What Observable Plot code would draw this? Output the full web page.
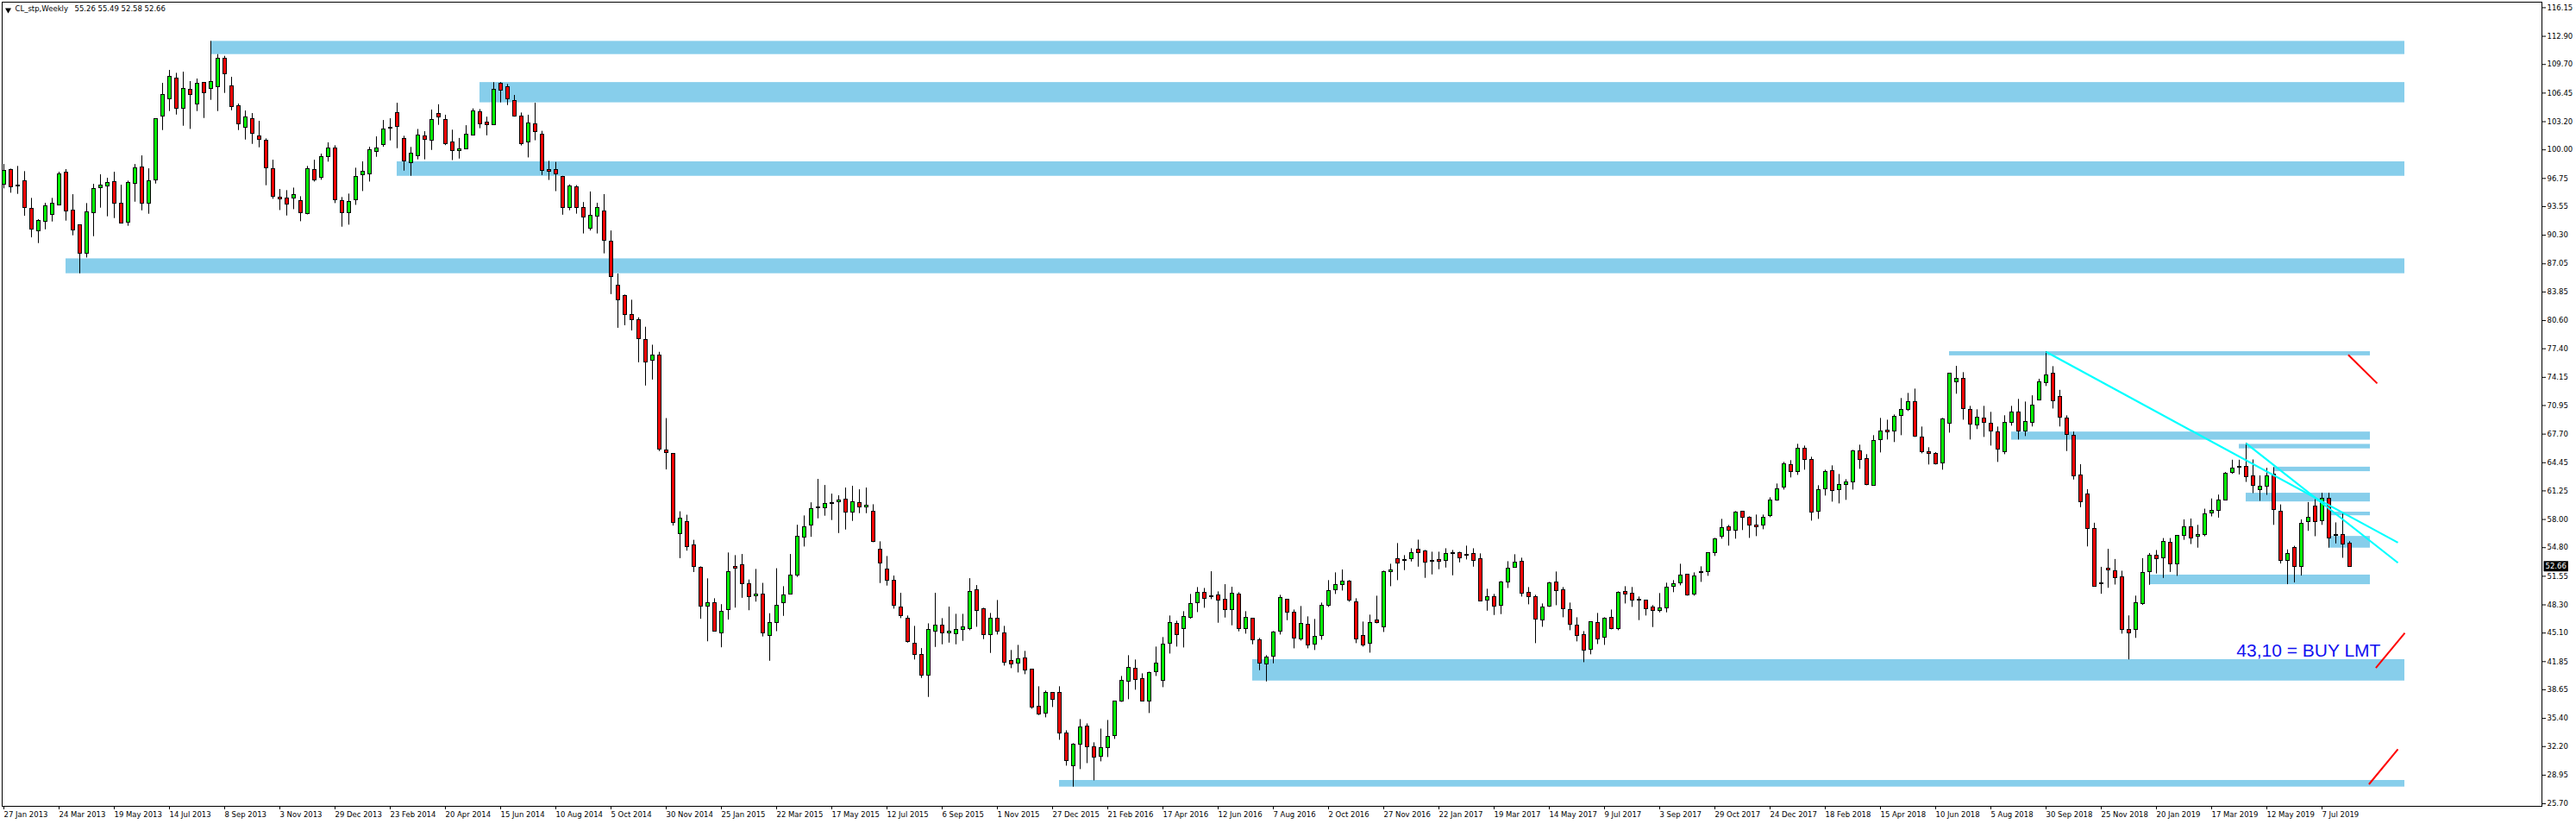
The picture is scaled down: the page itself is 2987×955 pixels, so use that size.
<!DOCTYPE html>
<html><head><meta charset="utf-8">
<script src="https://cdn.jsdelivr.net/npm/d3@7"></script>
<script src="https://cdn.jsdelivr.net/npm/@observablehq/plot@0.6"></script>
<style>html,body{margin:0;padding:0;background:#fff;overflow:hidden}</style>
</head><body>
<div id="chart"></div>
<script>
const symbolName = "CL_stp,Weekly";
// weekly bars, bar 0 = week of 27 Jan 2013
const opens = [96.06,97.72,95.93,96.45,93.31,90.76,91.81,92.62,93.74,97.43,93.11,91.45,88.21,92.82,95.66,95.86,96.35,93.90,91.74,96.15,
98.02,93.90,96.55,103.80,105.76,108.11,104.68,106.84,105.17,107.62,106.94,107.13,110.37,107.23,104.98,102.53,103.51,101.55,101.06,97.82,
94.59,94.49,94.49,94.19,92.72,97.72,96.84,99.19,100.17,94.19,92.82,94.29,97.13,97.23,99.78,100.57,102.49,104.19,101.22,98.49,
99.30,101.55,101.09,104.06,103.38,100.83,99.90,100.11,101.64,104.28,103.09,102.79,107.51,107.13,105.55,103.81,100.83,102.92,101.72,97.73,
97.73,96.92,93.39,95.73,93.39,91.00,92.41,93.00,89.56,84.58,83.43,81.26,80.62,78.37,76.02,76.66,65.85,65.47,56.37,57.68,
55.05,52.50,48.07,48.54,45.05,47.73,52.54,52.84,50.62,49.30,49.43,44.75,46.24,48.50,49.47,51.60,55.94,57.35,59.30,59.29,
59.75,59.98,60.27,58.80,59.88,59.39,58.90,54.59,52.33,51.06,48.02,46.74,43.90,42.63,40.27,45.27,45.96,45.15,44.98,45.47,
45.57,49.98,47.82,44.88,46.74,45.08,41.94,41.65,42.23,40.96,36.74,35.96,38.31,38.31,33.70,29.98,32.43,34.49,32.13,31.06,
32.04,33.41,37.33,39.59,41.06,39.88,37.33,40.66,39.68,43.90,46.15,45.57,46.84,48.51,49.68,49.24,49.39,48.90,47.72,49.49,
45.57,46.74,44.29,41.55,42.43,45.27,48.90,47.43,44.39,46.06,43.80,44.78,48.21,49.98,50.57,50.96,48.61,44.78,43.90,46.55,
45.76,52.10,53.51,53.41,53.51,54.59,54.39,53.25,53.41,53.31,54.16,54.19,54.00,54.10,53.51,48.80,49.19,48.21,50.86,52.53,
53.21,49.68,49.19,46.55,48.12,50.86,49.98,47.72,45.96,44.88,43.21,46.25,44.59,46.84,45.57,49.79,49.59,48.84,48.80,48.02,
47.63,47.92,50.37,50.77,51.75,49.49,51.97,52.04,54.20,56.06,57.14,56.75,58.90,58.22,57.24,57.33,58.41,60.18,61.65,64.20,
63.41,66.06,64.79,58.90,61.45,63.51,61.35,61.94,62.24,65.77,64.88,61.84,67.04,68.12,68.02,69.79,70.47,71.35,67.33,65.57,
65.47,64.39,68.90,73.61,74.00,70.47,68.71,69.49,68.90,67.92,65.67,69.00,70.18,68.02,69.00,71.55,73.46,74.58,71.93,69.51,
67.53,63.03,60.85,56.93,50.70,52.44,52.16,51.45,45.49,45.42,48.42,52.06,53.90,53.60,55.37,52.91,56.15,57.14,56.08,56.22,
58.71,59.01,60.14,63.31,63.95,63.99,62.93,61.36,61.74,63.14,58.91,53.32,54.79,52.61,57.72,59.49,57.86,60.38,56.22,56.25,
55.26];
const highs = [98.34,97.82,98.12,97.53,94.49,92.07,93.93,94.49,97.46,97.76,94.91,91.45,93.90,96.09,97.17,96.78,97.46,95.99,96.45,98.34,
99.32,97.85,103.51,107.56,109.03,108.70,108.83,107.76,108.05,107.62,112.33,110.83,110.63,108.25,105.21,104.42,104.13,103.25,101.25,98.83,
95.50,95.37,95.66,94.68,98.12,98.83,99.52,100.80,100.47,94.59,94.98,97.92,98.64,100.30,101.48,103.34,103.54,105.30,101.55,100.28,
102.32,102.07,104.53,105.13,103.94,102.24,101.30,102.75,104.66,104.58,103.72,107.64,107.64,107.43,106.19,104.19,103.94,105.30,102.11,98.70,
98.58,97.00,96.02,95.94,94.02,95.22,93.94,94.92,90.79,85.90,83.51,82.92,80.92,79.85,77.81,77.00,69.47,65.47,58.88,58.49,
55.64,52.62,51.26,49.00,48.33,54.20,53.90,54.03,51.13,52.33,50.75,47.30,52.41,50.37,54.03,57.35,58.41,59.90,62.56,61.87,
60.89,60.70,61.58,61.78,61.38,61.58,59.68,55.47,53.80,51.58,49.62,47.04,45.86,43.34,46.15,49.62,46.74,48.05,47.23,47.23,
51.28,50.50,47.92,47.33,48.80,45.86,43.12,43.70,43.02,40.96,39.00,38.51,38.31,39.00,34.00,32.53,35.27,34.78,32.63,34.19,
35.17,37.33,40.17,42.53,42.04,40.47,40.66,43.51,44.59,47.04,46.45,47.53,49.49,50.27,50.17,52.07,49.78,50.60,50.31,49.68,
47.53,46.74,44.49,42.53,45.27,49.39,48.90,47.72,48.12,46.94,46.65,48.51,51.06,51.94,52.27,51.06,49.00,46.35,47.14,49.29,
52.14,52.92,55.27,53.90,54.68,55.66,54.49,54.29,54.29,54.68,54.49,54.29,54.98,54.68,54.10,50.08,49.49,50.96,53.21,54.00,
53.61,50.27,49.39,48.41,50.86,52.04,50.27,48.51,46.84,45.27,46.35,47.33,46.84,47.72,49.78,50.37,50.28,49.20,48.80,48.22,
49.59,50.77,51.06,52.92,51.75,51.94,52.63,54.20,55.86,58.02,57.33,58.90,58.90,58.31,58.51,58.51,60.47,62.04,64.49,64.69,
66.55,66.35,65.08,61.84,63.61,64.10,63.12,62.53,65.86,66.45,65.37,67.53,69.49,69.29,69.88,71.75,72.33,72.82,68.51,66.16,
65.60,69.49,74.59,75.41,74.69,70.86,70.47,70.86,70.18,68.51,69.79,70.86,71.65,71.35,72.06,73.94,77.05,75.37,72.68,69.78,
67.94,64.23,61.40,57.58,52.57,54.62,53.46,52.13,47.05,49.30,53.56,54.14,54.48,55.84,55.84,56.18,57.96,58.06,57.34,59.18,
60.34,60.78,63.34,64.74,64.74,66.64,64.77,62.96,63.82,63.89,59.66,54.55,54.96,57.96,59.93,60.27,60.99,60.99,57.62,58.81,
55.49];
const lows = [95.57,95.08,94.95,92.46,90.01,89.36,90.92,91.81,93.64,91.91,90.24,85.92,87.72,90.14,93.38,92.40,92.20,91.64,91.32,94.06,
93.08,92.69,96.12,102.20,104.36,103.96,102.69,102.33,104.36,103.57,105.63,104.36,106.42,104.45,102.20,101.12,100.63,100.24,95.93,94.39,
93.11,92.49,93.21,91.84,92.62,96.35,96.55,98.61,93.90,91.22,91.45,93.70,95.27,96.35,99.16,100.30,101.02,100.14,97.59,97.00,
98.87,98.87,99.94,102.79,100.49,98.79,98.96,100.07,101.64,102.41,101.60,102.79,105.34,105.04,103.72,100.45,99.09,101.04,97.09,96.53,
95.26,92.58,93.09,92.70,90.45,90.79,90.45,88.19,83.56,79.73,80.02,79.43,75.81,73.17,73.85,65.73,63.64,57.26,53.56,54.41,
51.98,46.67,44.11,45.26,43.43,46.58,47.94,49.05,47.64,48.62,44.66,41.90,45.26,47.00,49.43,51.43,54.88,55.98,58.08,58.38,
57.89,56.41,56.81,57.79,58.67,58.67,55.37,50.73,50.44,47.82,46.74,43.96,42.04,39.95,37.79,43.47,43.77,43.96,43.77,44.16,
45.37,45.76,44.36,42.79,44.88,41.35,41.06,40.57,40.37,36.45,35.73,35.47,36.64,32.92,29.98,27.59,29.59,30.27,28.31,30.47,
30.96,33.02,37.23,37.53,38.61,37.33,35.96,40.17,38.90,42.72,43.51,43.41,46.68,47.43,47.92,48.90,46.22,46.81,45.93,45.24,
44.98,43.77,40.83,39.55,41.61,44.88,46.51,43.31,44.19,43.31,43.12,44.29,48.02,49.49,49.88,48.61,43.90,43.51,42.82,46.15,
45.17,50.37,51.06,52.20,53.18,52.59,51.32,51.71,52.30,52.49,51.61,53.08,53.41,52.59,48.70,47.59,47.10,47.20,50.17,52.53,
49.19,48.31,43.90,45.76,48.02,48.21,46.84,45.37,44.10,41.74,42.63,43.80,43.70,45.47,45.37,48.41,48.02,46.52,47.04,45.73,
47.40,47.40,49.69,50.47,49.30,49.30,50.86,51.55,53.81,55.77,54.98,55.77,56.75,55.86,56.06,56.84,58.22,60.08,61.35,62.73,
63.02,63.61,57.82,58.02,60.67,59.98,59.78,60.18,61.35,63.71,61.84,61.84,65.57,67.04,66.75,67.53,70.28,67.33,65.47,64.20,
64.20,63.61,67.82,72.24,69.29,67.04,68.22,67.33,66.35,64.49,65.37,68.61,67.04,67.43,68.52,71.55,73.12,70.56,68.52,65.73,
62.49,59.35,54.89,50.39,49.51,50.19,50.56,44.98,42.05,44.50,48.25,50.53,51.82,51.31,51.99,51.55,55.64,55.16,54.75,56.05,
58.30,58.16,60.14,63.14,63.07,62.22,60.95,60.07,60.75,57.34,52.95,50.60,50.80,51.58,56.66,56.05,57.34,54.75,55.23,53.60,
52.58];
const closes = [97.63,95.80,95.90,93.41,90.96,91.94,93.60,93.90,97.23,93.02,90.86,88.21,92.92,95.57,95.96,96.25,93.90,91.64,96.25,97.92,
93.90,96.45,103.51,106.25,108.31,104.68,106.97,106.25,107.53,106.45,107.72,110.37,108.61,104.88,102.92,103.70,101.84,101.15,97.92,94.68,
94.39,93.80,94.88,92.82,97.82,96.55,99.19,100.17,94.29,92.82,94.10,96.94,97.53,99.98,100.17,102.33,102.43,102.62,98.70,99.55,
101.64,101.17,103.38,103.72,100.62,99.90,100.11,101.72,104.36,102.92,102.79,106.83,106.75,105.77,103.81,100.62,103.00,102.02,97.64,97.56,
97.22,93.39,95.81,93.39,92.28,92.49,93.39,89.64,85.56,82.92,81.26,80.62,78.49,75.81,76.66,65.90,65.56,57.64,58.07,54.88,
52.62,48.15,48.45,45.30,47.47,51.98,52.50,50.62,49.17,49.52,45.05,46.28,48.24,49.35,51.60,56.03,57.09,59.22,59.32,59.78,
59.85,60.17,58.80,59.98,59.39,59.59,55.44,53.02,51.06,48.21,47.04,44.10,42.63,40.27,45.47,45.96,45.08,45.19,45.47,45.76,
49.78,47.62,44.88,46.74,45.27,41.74,41.55,42.13,40.86,36.64,35.86,38.31,37.53,33.70,30.57,32.43,34.39,32.13,30.96,32.04,
33.31,37.33,39.68,41.15,39.78,37.33,40.57,41.65,43.80,46.25,44.88,46.94,48.41,49.68,49.00,49.28,48.80,47.72,49.59,45.57,
46.84,44.29,41.64,42.33,45.17,49.10,47.43,44.49,46.15,43.70,44.68,48.21,49.88,50.57,50.96,48.80,44.39,43.70,46.25,46.25,
52.04,52.14,53.02,53.31,54.19,54.19,53.12,53.21,53.21,54.10,54.19,53.61,53.93,53.31,48.70,49.19,48.12,50.86,52.43,53.12,
49.59,49.19,46.65,48.02,50.76,49.88,47.82,46.06,44.78,43.12,46.35,44.39,46.74,45.57,49.68,49.46,48.80,48.80,47.82,47.63,
47.92,50.28,50.67,51.65,49.39,51.55,52.01,54.20,55.77,57.04,56.75,58.80,58.22,57.33,57.20,58.22,60.18,61.45,64.30,63.41,
66.06,64.79,58.80,61.35,63.41,61.26,61.94,62.24,65.77,64.79,61.94,66.94,68.02,67.92,69.69,70.47,71.35,67.43,65.67,65.54,
64.30,69.39,74.59,74.00,70.57,68.81,69.59,69.00,68.02,65.96,69.00,70.18,68.02,69.10,70.97,73.60,74.38,71.45,69.54,67.63,
62.86,59.93,56.93,50.39,50.67,52.23,51.38,45.42,45.08,48.45,51.96,53.87,53.53,55.47,52.91,56.18,57.14,55.88,56.29,58.60,
58.95,60.14,63.24,63.82,63.92,62.83,61.84,61.74,62.86,59.05,53.29,54.11,52.61,57.55,58.16,57.72,60.38,55.88,56.18,55.20,
52.66];

// date labels on every 8th bar, starting with bar 0
const dateLabels = ["27 Jan 2013","24 Mar 2013","19 May 2013","14 Jul 2013","8 Sep 2013","3 Nov 2013","29 Dec 2013","23 Feb 2014",
"20 Apr 2014","15 Jun 2014","10 Aug 2014","5 Oct 2014","30 Nov 2014","25 Jan 2015","22 Mar 2015","17 May 2015",
"12 Jul 2015","6 Sep 2015","1 Nov 2015","27 Dec 2015","21 Feb 2016","17 Apr 2016","12 Jun 2016","7 Aug 2016",
"2 Oct 2016","27 Nov 2016","22 Jan 2017","19 Mar 2017","14 May 2017","9 Jul 2017","3 Sep 2017","29 Oct 2017",
"24 Dec 2017","18 Feb 2018","15 Apr 2018","10 Jun 2018","5 Aug 2018","30 Sep 2018","25 Nov 2018","20 Jan 2019",
"17 Mar 2019","12 May 2019","7 Jul 2019"];
const priceTicks = [116.15,112.90,109.70,106.45,103.20,100.00,96.75,93.55,90.30,87.05,83.85,80.60,77.40,74.15,70.95,
67.70,64.45,61.25,58.00,54.80,51.55,48.30,45.10,41.85,38.65,35.40,32.20,28.95,25.70];

// support / resistance zones (bar index from..to, price low..high)
const zoneFrom = [30, 69, 57, 9, 282, 291, 324, 329, 325, 337, 337, 311, 181, 153];
const zoneTo   = [348, 348, 348, 348, 343, 343, 343, 343, 343, 343, 343, 343, 348, 348];
const zoneLow  = [110.83, 105.35, 97.00, 85.93, 76.60, 67.02, 66.03, 63.44, 60.00, 58.43, 54.75, 50.60, 39.65, 27.60];
const zoneHigh = [112.33, 107.65, 98.64, 87.62, 77.07, 67.94, 66.54, 63.95, 60.99, 58.84, 56.08, 51.69, 42.08, 28.35];

// cyan trend lines
const trendFromBar = [296, 325];
const trendFromPrice = [77.05, 66.64];
const trendToBar = [347, 347];
const trendToPrice = [55.37, 53.08];

// red arrow strokes
const arrowFromBar = [339.8, 343.8, 342.8];
const arrowFromPrice = [76.70, 41.13, 27.91];
const arrowToBar = [344.0, 348.0, 347.0];
const arrowToPrice = [73.46, 45.11, 31.89];

const noteText = "43,10 = BUY LMT";
const noteBar = 323.6;
const notePrice = 42.46;

const bars = opens.map((o, i) => ({i, o, h: highs[i], l: lows[i], c: closes[i]}));
const zones = zoneFrom.map((s, k) => ({s, e: zoneTo[k], lo: zoneLow[k], hi: zoneHigh[k]}));
const trends = trendFromBar.map((x1, k) => ({x1, y1: trendFromPrice[k], x2: trendToBar[k], y2: trendToPrice[k]}));
const arrows = arrowFromBar.map((x1, k) => ({x1, y1: arrowFromPrice[k], x2: arrowToBar[k], y2: arrowToPrice[k]}));
const last = bars[bars.length - 1];
const tickBars = dateLabels.map((_, k) => k * 8);

const bodyLo = d => Math.abs(d.o - d.c) < 0.06 ? Math.min(d.o, d.c) - 0.04 : Math.min(d.o, d.c);
const bodyHi = d => Math.abs(d.o - d.c) < 0.06 ? Math.max(d.o, d.c) + 0.04 : Math.max(d.o, d.c);

const chart = Plot.plot({
  width: 2987, height: 955,
  marginLeft: 2, marginRight: 40, marginTop: 2, marginBottom: 21,
  style: {fontFamily: "DejaVu Sans", fontSize: "8.5px", background: "white", overflow: "visible"},
  x: {domain: [-0.25, 367.875]},
  y: {domain: [25.41, 116.78]},
  color: {type: "identity"},
  marks: [
    Plot.rect(zones, {x1: "s", x2: "e", y1: "lo", y2: "hi", fill: "#87CEEB"}),
    Plot.ruleX(bars, {x: "i", y1: "l", y2: "h", stroke: "black", strokeWidth: 1}),
    Plot.rect(bars, {x1: d => d.i - 0.25, x2: d => d.i + 0.25, y1: bodyLo, y2: bodyHi,
      fill: d => d.c >= d.o ? "#00FF00" : "#FF0000", stroke: "black", strokeWidth: 1, shapeRendering: "crispEdges"}),
    Plot.link(trends, {x1: "x1", y1: "y1", x2: "x2", y2: "y2", stroke: "#00FFFF", strokeWidth: 2.2}),
    Plot.link(arrows, {x1: "x1", y1: "y1", x2: "x2", y2: "y2", stroke: "#FF0000", strokeWidth: 2}),
    Plot.text([noteText], {x: () => noteBar, y: () => notePrice, text: d => d, textAnchor: "start", lineAnchor: "bottom",
      fill: "#1010F0", fontFamily: "Liberation Sans", fontSize: 21}),
    Plot.frame({stroke: "black", strokeWidth: 1}),
    Plot.axisY(priceTicks, {anchor: "right", tickSize: 4, tickPadding: 2, tickFormat: d => d.toFixed(2), label: null}),
    Plot.axisX(tickBars, {anchor: "bottom", tickSize: 4, tickPadding: 2, tickFormat: d => dateLabels[d / 8],
      textAnchor: "start", dx: 0, label: null}),
    Plot.dot([0], {frameAnchor: "top-left", dx: 7, dy: 9, symbol: "triangle", rotate: 180, r: 2.6, fill: "black", stroke: null}),
    Plot.text([symbolName], {frameAnchor: "top-left", dx: 15, dy: 4, text: d => d, textAnchor: "start", lineAnchor: "top", fill: "black"}),
    Plot.text([last], {frameAnchor: "top-left", dx: 84, dy: 4, textAnchor: "start", lineAnchor: "top", fill: "black",
      text: d => [d.o, d.h, d.l, d.c].map(v => v.toFixed(2)).join(" ")}),
    Plot.text([last.c], {y: d => d, frameAnchor: "right", dx: 4, textAnchor: "start", fill: "white",
      text: d => d.toFixed(2), className: "lastprice"})
  ]
});
document.getElementById("chart").appendChild(chart);

// black box behind the current price label
d3.select(chart).selectAll("g.lastprice text").each(function() {
  const b = this.getBBox();
  const g = this.parentNode;
  const t = this.getAttribute("transform");
  const r = document.createElementNS("http://www.w3.org/2000/svg", "rect");
  r.setAttribute("x", b.x - 2); r.setAttribute("y", b.y - 1);
  r.setAttribute("width", b.width + 4); r.setAttribute("height", b.height + 2);
  r.setAttribute("fill", "black");
  if (t) r.setAttribute("transform", t);
  g.insertBefore(r, this);
});
</script>
</body></html>
